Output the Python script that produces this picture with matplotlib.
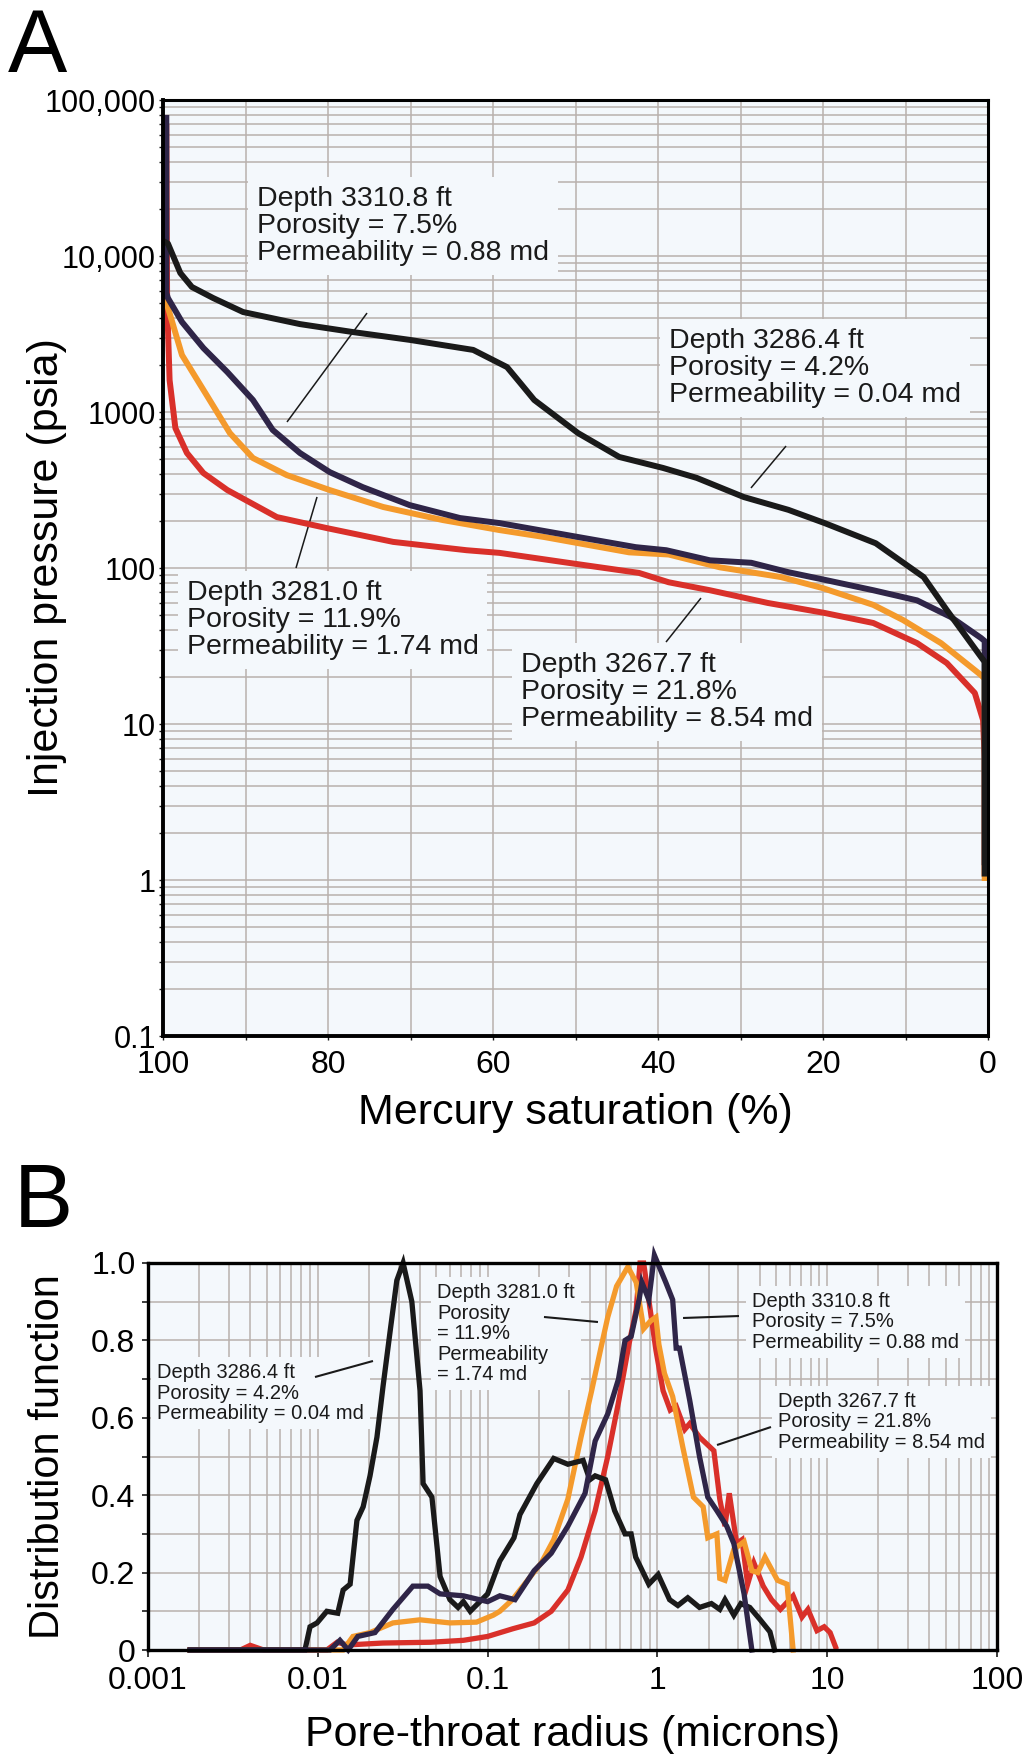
import matplotlib
matplotlib.use('Agg')
import matplotlib.pyplot as plt
from matplotlib.ticker import FixedLocator, FixedFormatter, LogLocator, MultipleLocator, NullFormatter

plt.rcParams['font.family'] = ['Liberation Sans', 'DejaVu Sans']

BG = '#f4f8fc'
GRID = '#b9b1ad'
C_BLACK = '#1a1a1a'
C_NAVY = '#2f2548'
C_ORANGE = '#f49a2c'
C_RED = '#d9302a'

# ---------------- panel A: capillary pressure curves ----------------
a_sat_3286 = [100, 99.4, 97.9, 96.5, 93.9, 90.3, 83.4, 77.0, 70.1, 62.4, 58.3, 56.7, 55.0,
              49.7, 44.7, 39.4, 35.3, 29.6, 24.2, 19.8, 13.6, 7.8, 5.0, 0.85, 0.4, 0.4]
a_p_3286 = [12500, 12000, 7780, 6330, 5370, 4375, 3660, 3255, 2900, 2500, 1940, 1535, 1194,
            733, 515, 438, 378, 285, 236, 194, 144, 87.5, 53.8, 26.9, 25, 1.1]

a_sat_3310 = [99.6, 99.6, 99.4, 97.7, 95.1, 92.2, 89.1, 86.7, 83.4, 79.8, 75.8, 70.1, 64.0,
              59.2, 49.7, 42.7, 39.0, 33.7, 28.7, 24.2, 19.8, 13.9, 8.6, 4.5, 0.85, 0.4, 0.4]
a_p_3310 = [76700, 5800, 5370, 3776, 2570, 1803, 1194, 767, 546, 412, 330, 253, 209,
            194, 158, 136, 130, 112, 108, 94, 84, 72, 62, 48.5, 35.6, 34, 1.3]

a_sat_3281 = [99.6, 97.7, 94.5, 91.9, 89.1, 85.0, 79.8, 73.3, 66.1, 59.2, 53.8, 43.5, 38.7,
              32.5, 25.1, 20.1, 13.9, 10.3, 5.7, 0.85, 0.4, 0.4]
a_p_3281 = [5070, 2318, 1230, 733, 507, 394, 316, 246, 203, 175, 158, 126, 122,
            101, 87.5, 74.5, 58, 46.4, 33, 20.6, 19.5, 1.03]

a_sat_3267 = [99.6, 99.5, 99.2, 98.5, 97.1, 95.1, 92.2, 86.2, 80.1, 72.1, 63.2, 59.2, 50.9,
              42.3, 38.7, 33.7, 26.7, 19.8, 13.9, 8.6, 5.0, 1.6, 0.6, 0.4, 0.4]
a_p_3267 = [67000, 5000, 1600, 789, 546, 406, 316, 212, 180, 147, 130, 125, 108,
            93, 81, 72, 59.7, 51.5, 44.4, 33, 24.6, 15.8, 10.6, 6, 1.1]

a_yticks = [0.1, 1, 10, 100, 1000, 10000, 100000]
a_yticklabels = ['0.1', '1', '10', '100', '1000', '10,000', '100,000']
a_xticks = [100, 80, 60, 40, 20, 0]

# ---------------- panel B: pore-throat distributions ----------------
b_r_3286 = [0.00177, 0.0084, 0.0090, 0.0099, 0.0113, 0.0131, 0.0141, 0.0155, 0.0170, 0.0185,
            0.0203, 0.0223, 0.0242, 0.0266, 0.0292, 0.0318, 0.0358, 0.0400, 0.0417, 0.047,
            0.0525, 0.060, 0.067, 0.072, 0.079, 0.090, 0.100, 0.118, 0.143, 0.155, 0.195,
            0.245, 0.297, 0.365, 0.40, 0.43, 0.495, 0.56, 0.645, 0.70, 0.745, 0.89, 1.01,
            1.18, 1.32, 1.51, 1.77, 2.08, 2.33, 2.5, 2.82, 3.1, 3.5, 4.0, 4.6, 4.9]
b_f_3286 = [0, 0, 0.06, 0.07, 0.10, 0.095, 0.155, 0.17, 0.335, 0.37,
            0.45, 0.55, 0.68, 0.82, 0.955, 1.0, 0.90, 0.67, 0.43, 0.395,
            0.19, 0.13, 0.11, 0.125, 0.10, 0.125, 0.145, 0.23, 0.29, 0.35, 0.43,
            0.495, 0.48, 0.49, 0.44, 0.45, 0.44, 0.36, 0.30, 0.30, 0.24, 0.17, 0.195,
            0.13, 0.115, 0.135, 0.11, 0.12, 0.105, 0.13, 0.09, 0.12, 0.11, 0.08, 0.047, 0.0]

b_r_3310 = [0.00177, 0.0118, 0.0135, 0.0151, 0.0172, 0.0217, 0.0277, 0.0363, 0.0445, 0.0525,
            0.072, 0.100, 0.118, 0.145, 0.188, 0.237, 0.297, 0.375, 0.43, 0.51, 0.59,
            0.645, 0.70, 0.78, 0.81, 0.89, 0.96, 1.12, 1.23, 1.29, 1.35, 1.55, 1.77,
            1.98, 2.24, 2.56, 2.82, 3.24, 3.6]
b_f_3310 = [0, 0, 0.025, 0, 0.035, 0.045, 0.105, 0.165, 0.165, 0.145,
            0.14, 0.125, 0.14, 0.13, 0.205, 0.25, 0.32, 0.405, 0.54, 0.61, 0.70,
            0.80, 0.81, 0.905, 0.95, 0.905, 1.02, 0.95, 0.905, 0.78, 0.78, 0.645, 0.50,
            0.395, 0.36, 0.32, 0.275, 0.145, 0.0]

b_r_3281 = [0.00177, 0.0141, 0.0161, 0.0203, 0.0277, 0.040, 0.060, 0.086, 0.108, 0.118,
            0.14, 0.155, 0.207, 0.245, 0.297, 0.355, 0.41, 0.47, 0.51, 0.575, 0.67,
            0.75, 0.83, 0.91, 0.98, 1.02, 1.10, 1.23, 1.41, 1.63, 1.86, 1.98, 2.24,
            2.33, 2.5, 2.82, 3.24, 3.6, 3.9, 4.3, 5.1, 5.8, 6.3]
b_f_3281 = [0, 0, 0.035, 0.045, 0.07, 0.078, 0.07, 0.072, 0.09, 0.10,
            0.13, 0.155, 0.225, 0.285, 0.39, 0.55, 0.67, 0.79, 0.86, 0.94, 0.99,
            0.95, 0.83, 0.85, 0.86, 0.79, 0.715, 0.655, 0.525, 0.395, 0.37, 0.29, 0.30,
            0.185, 0.18, 0.26, 0.28, 0.205, 0.20, 0.24, 0.18, 0.17, 0.0]

b_r_3267 = [0.00177, 0.0035, 0.0040, 0.0048, 0.0113, 0.013, 0.0149, 0.0242, 0.046, 0.072,
            0.100, 0.141, 0.188, 0.237, 0.297, 0.355, 0.43, 0.51, 0.59, 0.68, 0.75,
            0.79, 0.83, 0.89, 0.98, 1.08, 1.19, 1.29, 1.45, 1.55, 1.77, 2.15, 2.33,
            2.5, 2.65, 2.93, 3.15, 3.4, 3.7, 4.2, 4.7, 5.3, 6.3, 7.1, 7.7, 8.7,
            9.6, 10.4, 11.2]
b_f_3267 = [0, 0, 0.012, 0, 0, 0.02, 0.013, 0.018, 0.02, 0.025,
            0.035, 0.055, 0.07, 0.10, 0.155, 0.24, 0.36, 0.50, 0.64, 0.79, 0.88,
            1.0, 1.0, 0.905, 0.775, 0.67, 0.62, 0.63, 0.57, 0.585, 0.55, 0.515, 0.39,
            0.32, 0.405, 0.275, 0.285, 0.17, 0.225, 0.165, 0.13, 0.105, 0.14, 0.085, 0.105, 0.05,
            0.06, 0.045, 0.008]

b_xticks = [0.001, 0.01, 0.1, 1, 10, 100]
b_xticklabels = ['0.001', '0.01', '0.1', '1', '10', '100']
b_yticks = [0, 0.2, 0.4, 0.6, 0.8, 1.0]
b_yticklabels = ['0', '0.2', '0.4', '0.6', '0.8', '1.0']

lab_3310 = "Depth 3310.8 ft\nPorosity = 7.5%\nPermeability = 0.88 md"
lab_3286 = "Depth 3286.4 ft\nPorosity = 4.2%\nPermeability = 0.04 md"
lab_3281 = "Depth 3281.0 ft\nPorosity = 11.9%\nPermeability = 1.74 md"
lab_3267 = "Depth 3267.7 ft\nPorosity = 21.8%\nPermeability = 8.54 md"
lab_3281_b = "Depth 3281.0 ft\nPorosity\n= 11.9%\nPermeability\n= 1.74 md"

W, H = 1029, 1754
fig = plt.figure(figsize=(W / 100, H / 100), dpi=100)


def box(ax, x, y, txt, size, ls):
    ax.text(x, y, txt, transform=ax.transAxes, fontsize=size, ha='left', va='top',
            linespacing=ls, color='#1a1a1a', zorder=1.5,
            bbox=dict(boxstyle='square,pad=0.3', fc=BG, ec='none'))


def leader(ax, p0, p1, lw):
    ax.plot([p0[0], p1[0]], [p0[1], p1[1]], transform=ax.transAxes,
            color='#1a1a1a', lw=lw, zorder=1.8, solid_capstyle='butt')


# ---- A ----
axA = fig.add_axes([163 / W, 1 - 1036 / H, 825 / W, 936 / H])
axA.set_facecolor(BG)
axA.set_yscale('log')
axA.set_xlim(100, 0)
axA.set_ylim(0.1, 100000)
axA.set_axisbelow(True)

axA.plot(a_sat_3267, a_p_3267, color=C_RED, lw=4.3, solid_joinstyle='round')
axA.plot(a_sat_3281, a_p_3281, color=C_ORANGE, lw=4.3, solid_joinstyle='round')
axA.plot(a_sat_3310, a_p_3310, color=C_NAVY, lw=4.3, solid_joinstyle='round')
axA.plot(a_sat_3286, a_p_3286, color=C_BLACK, lw=4.3, solid_joinstyle='round')

axA.yaxis.set_major_locator(FixedLocator(a_yticks))
axA.yaxis.set_major_formatter(FixedFormatter(a_yticklabels))
axA.yaxis.set_minor_locator(LogLocator(base=10, subs=range(2, 10), numticks=20))
axA.yaxis.set_minor_formatter(NullFormatter())
axA.xaxis.set_major_locator(FixedLocator(a_xticks))
axA.xaxis.set_minor_locator(MultipleLocator(10))
axA.grid(which='both', color=GRID, lw=1.1)
axA.tick_params(which='both', direction='out', color='#1a1a1a', length=3, width=1)
axA.tick_params(axis='y', labelsize=22, pad=2)
axA.tick_params(axis='x', labelsize=23, pad=7)
for s in ['left', 'bottom']:
    axA.spines[s].set_linewidth(2.8)
for s in ['top', 'right']:
    axA.spines[s].set_linewidth(2.2)

axA.set_xlabel('Mercury saturation (%)', fontsize=31)
axA.xaxis.set_label_coords(0.5, -0.061)
axA.set_ylabel('Injection pressure (psia)', fontsize=31)
axA.yaxis.set_label_coords(-0.116, 0.5)

box(axA, 0.1139, 0.9081, lab_3310, 20.5, 1.05)
box(axA, 0.6133, 0.7564, lab_3286, 20.5, 1.05)
box(axA, 0.0291, 0.4872, lab_3281, 20.5, 1.05)
box(axA, 0.4339, 0.4103, lab_3267, 20.5, 1.05)
leader(axA, (0.2473, 0.7724), (0.1503, 0.6560), 1.1)
leader(axA, (0.7552, 0.6303), (0.7127, 0.5855), 1.1)
leader(axA, (0.1867, 0.5759), (0.1612, 0.5000), 1.1)
leader(axA, (0.6521, 0.4679), (0.6097, 0.4209), 1.1)

# ---- B ----
axB = fig.add_axes([148 / W, 1 - 1650 / H, 849 / W, 387 / H])
axB.set_facecolor(BG)
axB.set_xscale('log')
axB.set_xlim(0.001, 100)
axB.set_ylim(0, 1)
axB.set_axisbelow(True)

for r, f, c in [(b_r_3267, b_f_3267, C_RED), (b_r_3281, b_f_3281, C_ORANGE),
                (b_r_3286, b_f_3286, C_BLACK), (b_r_3310, b_f_3310, C_NAVY)]:
    axB.plot(r, f, color=c, lw=3.8, clip_on=False, solid_joinstyle='miter')

axB.xaxis.set_major_locator(FixedLocator(b_xticks))
axB.xaxis.set_major_formatter(FixedFormatter(b_xticklabels))
axB.xaxis.set_minor_locator(LogLocator(base=10, subs=range(2, 10), numticks=20))
axB.xaxis.set_minor_formatter(NullFormatter())
axB.yaxis.set_major_locator(FixedLocator(b_yticks))
axB.yaxis.set_major_formatter(FixedFormatter(b_yticklabels))
axB.yaxis.set_minor_locator(MultipleLocator(0.1))
axB.yaxis.set_minor_formatter(NullFormatter())
axB.grid(which='both', color=GRID, lw=1.1)
axB.tick_params(which='both', direction='out', color='#1a1a1a', width=1.2)
axB.tick_params(axis='y', which='both', length=4, labelsize=23, pad=5)
axB.tick_params(axis='x', which='major', length=5, labelsize=23, pad=6.5)
axB.tick_params(axis='x', which='minor', length=0)
for s in ['left', 'bottom', 'top', 'right']:
    axB.spines[s].set_linewidth(2.4)

axB.set_xlabel('Pore-throat radius (microns)', fontsize=31)
axB.xaxis.set_label_coords(0.5, -0.168)
axB.set_ylabel('Distribution function', fontsize=30)
axB.yaxis.set_label_coords(-0.094, 0.5)

box(axB, 0.0106, 0.7416, lab_3286, 14.5, 1.1)
box(axB, 0.3404, 0.9483, lab_3281_b, 14.5, 1.1)
box(axB, 0.7114, 0.9251, lab_3310, 14.5, 1.1)
box(axB, 0.7420, 0.6667, lab_3267, 14.5, 1.1)
leader(axB, (0.1967, 0.7054), (0.2650, 0.7468), 1.5)
leader(axB, (0.4664, 0.8605), (0.5300, 0.8475), 1.5)
leader(axB, (0.6302, 0.8579), (0.6961, 0.8630), 1.5)
leader(axB, (0.6702, 0.5297), (0.7338, 0.5762), 1.5)

fig.text(8 / W, 1 - 72 / H, 'A', fontsize=64, ha='left', va='baseline')
fig.text(14 / W, 1 - 1227 / H, 'B', fontsize=64, ha='left', va='baseline')

fig.savefig('out.png', dpi=100, facecolor='white')
